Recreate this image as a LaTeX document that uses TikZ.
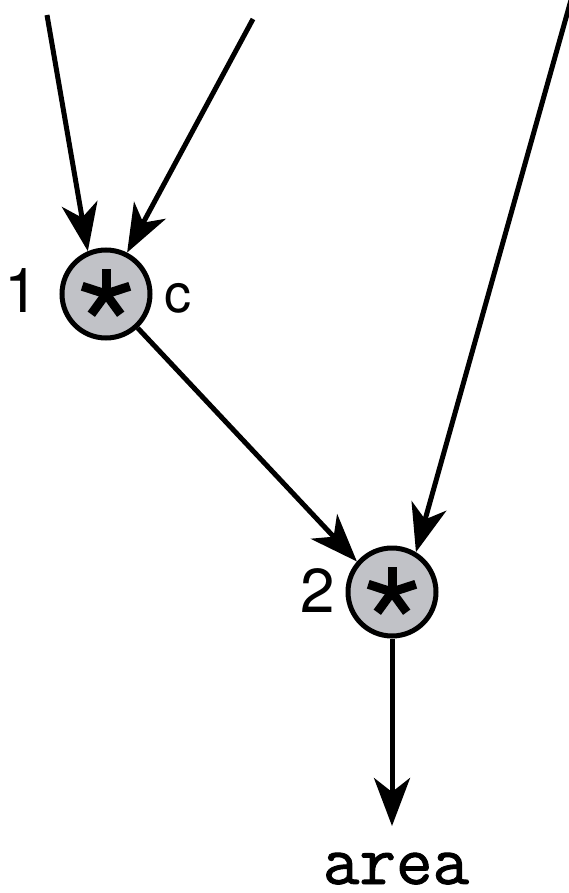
\documentclass[tikz,border=0pt]{standalone}
\usepackage{fontspec}
\setmainfont{TeX Gyre Heros}
\newfontfamily\codefont{Latin Modern Mono}[AutoFakeBold=1.3]
\usetikzlibrary{arrows.meta}
\definecolor{opgray}{RGB}{193,194,199}
\tikzset{
  wire/.style={line width=5pt,-{Stealth[length=48pt,width=36pt,inset=14pt]}},
  opnode/.style={circle,draw,line width=5pt,fill=opgray,minimum size=88pt,inner sep=0pt},
  numlabel/.style={anchor=base,font=\fontsize{62}{62}\selectfont,inner sep=0pt},
  codelabel/.style={anchor=base,font=\codefont\bfseries\fontsize{71}{71}\selectfont,inner sep=0pt},
  spoke/.style={line width=9pt}
}
\newcommand{\drawstar}[1]{%
  \foreach \a in {90,18,162,234,306}{\draw[spoke] (#1) -- ++(\a:25pt);}}
\begin{document}
\begin{tikzpicture}[x=1pt,y=-1pt]
\useasboundingbox (0,0) rectangle (568,893);
\node[opnode] (n1) at (106,294) {};
\node[opnode] (n2) at (392,592) {};
\drawstar{n1.center}
\drawstar{n2.center}
\node[numlabel] (l1) at (22,312) {1};
\node[numlabel,font=\fontsize{54}{54}\selectfont] (lc) at (178,312) {c};
\node[numlabel] (l2) at (318,612) {2};
\node[codelabel] (area) at (396,884) {area};
\coordinate (s1) at (47,15);
\coordinate (s2) at (253,19);
\coordinate (s3) at (571,0);
\coordinate (e4) at (392,826);
\draw[wire] (s1) -- (n1.113);
\draw[wire] (s2) -- (n1.63);
\draw[wire] (s3) -- (n2.59);
\draw[wire] (n1.-47) -- (n2.139);
\draw[wire] (n2.south) -- (e4);
\end{tikzpicture}
\end{document}
